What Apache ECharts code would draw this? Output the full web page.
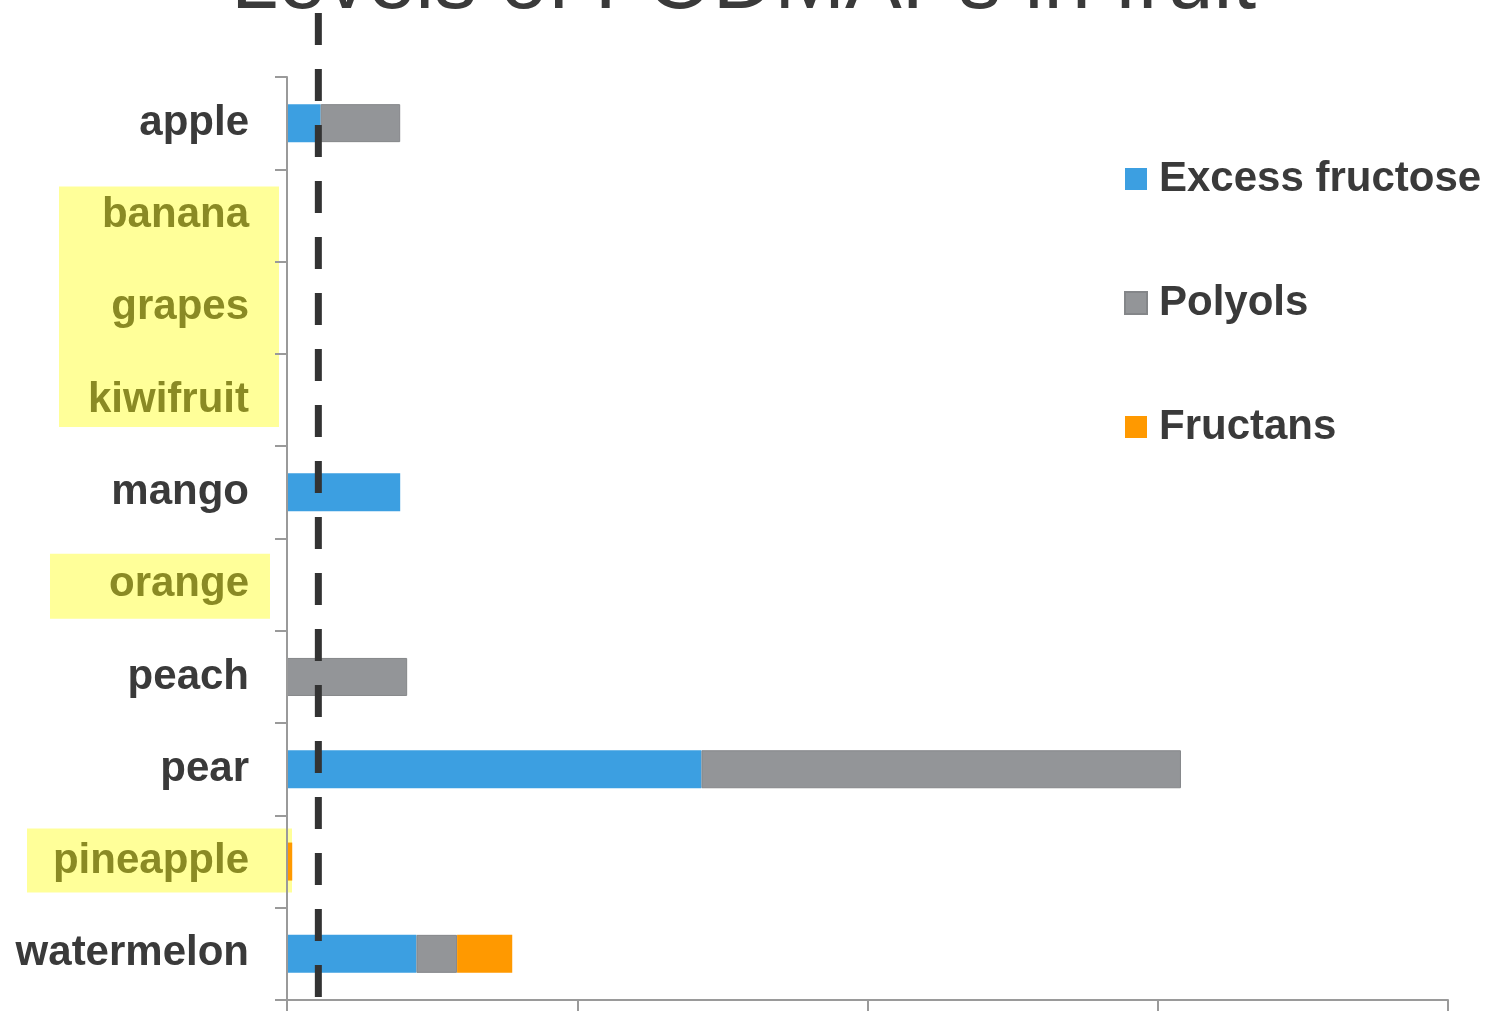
<!DOCTYPE html>
<html>
<head>
<meta charset="utf-8">
<title>Levels of FODMAPs in fruit</title>
<script src="https://cdn.jsdelivr.net/npm/echarts@6/dist/echarts.min.js"></script>
<style>
  html, body { margin: 0; padding: 0; background: #fff; }
  #chart { width: 1487px; height: 1011px; }
</style>
</head>
<body>
<div id="chart"></div>
<script>
// data (grams per serve, roughly)
const fruits = ["apple", "banana", "grapes", "kiwifruit", "mango", "orange", "peach", "pear", "pineapple", "watermelon"];
const excessFructose = [0.58, 0, 0, 0, 1.95, 0, 0, 7.14, 0, 2.23];
const polyols = [1.37, 0, 0, 0, 0, 0, 2.07, 8.26, 0, 0.70];
const fructans = [0, 0, 0, 0, 0, 0, 0, 0, 0.09, 0.95];
const highlighted = ["banana", "grapes", "kiwifruit", "orange", "pineapple"];
const cutoff = 0.54;
const xTicks = [0, 5, 10, 15, 20];

const FONT = '"Liberation Sans", Arial, sans-serif';
const chart = echarts.init(document.getElementById("chart"));

const toBar = (arr) => arr.map((v) => (v ? v : null));

const option = {
  backgroundColor: "#fff",
  animation: false,
  title: {
    text: "Levels of FODMAPs in fruit",
    left: "center",
    top: -63,
    textStyle: { fontFamily: FONT, fontSize: 85, fontWeight: "normal", color: "#3a3a3a" },
  },
  legend: {
    orient: "vertical",
    left: 1124,
    top: 154,
    padding: 0,
    icon: "rect",
    itemWidth: 22,
    itemHeight: 22,
    itemGap: 74,
    textStyle: {
      fontFamily: FONT,
      fontSize: 42,
      fontWeight: "bold",
      color: "#3a3a3a",
      lineHeight: 50,
      padding: [0, 0, 0, 7],
    },
  },
  grid: { left: 287, right: 39, top: 77, bottom: 11, containLabel: false },
  xAxis: {
    type: "value",
    min: xTicks[0],
    max: xTicks[xTicks.length - 1],
    interval: xTicks[1] - xTicks[0],
    axisLine: { show: true, lineStyle: { color: "#9a9a9a", width: 2 } },
    axisTick: { show: true, length: 12, lineStyle: { color: "#9a9a9a", width: 2 } },
    axisLabel: { show: false },
    splitLine: { show: false },
  },
  yAxis: {
    type: "category",
    data: fruits,
    inverse: true,
    z: 3,
    axisLine: { show: true, lineStyle: { color: "#9a9a9a", width: 2 } },
    axisTick: { show: true, length: 12, lineStyle: { color: "#9a9a9a", width: 2 } },
    axisLabel: {
      margin: 38,
      padding: [4, 0, 0, 0],
      fontFamily: FONT,
      fontSize: 42,
      fontWeight: "bold",
      color: (v) => (highlighted.includes(v) ? "#8a8a24" : "#3a3a3a"),
    },
  },
  series: [
    {
      name: "Excess fructose",
      type: "bar",
      stack: "total",
      barWidth: 38,
      itemStyle: { color: "#3c9fe1" },
      data: toBar(excessFructose),
    },
    {
      name: "Polyols",
      type: "bar",
      stack: "total",
      itemStyle: { color: "#939598", borderColor: "#848689", borderWidth: 1 },
      data: toBar(polyols),
    },
    {
      name: "Fructans",
      type: "bar",
      stack: "total",
      itemStyle: { color: "#ff9900" },
      data: toBar(fructans),
    },
  ],
};

chart.setOption(option);

// yellow highlight boxes behind some labels + dashed cutoff line
const yOf = (name) => chart.convertToPixel({ yAxisIndex: 0 }, name);
const boxes = [
  { from: "banana", to: "kiwifruit", x0: 59, x1: 279, up: 29, down: 27 },
  { from: "orange", to: "orange", x0: 50, x1: 270, up: 31, down: 34 },
  { from: "pineapple", to: "pineapple", x0: 27, x1: 292, up: 33, down: 31 },
];
const graphics = boxes.map((b) => {
  const y0 = yOf(b.from) - b.up;
  const y1 = yOf(b.to) + b.down;
  return {
    type: "rect",
    z: -5,
    shape: { x: b.x0, y: y0, width: b.x1 - b.x0, height: y1 - y0 },
    style: { fill: "#ffff99" },
  };
});
const cx = chart.convertToPixel({ xAxisIndex: 0 }, cutoff);
graphics.push({
  type: "line",
  z: 20,
  shape: { x1: cx, y1: 13, x2: cx, y2: 997 },
  style: { stroke: "#333333", lineWidth: 7, lineDash: [32, 24] },
});
chart.setOption({ graphic: graphics });

window.addEventListener("resize", () => chart.resize());
</script>
</body>
</html>
